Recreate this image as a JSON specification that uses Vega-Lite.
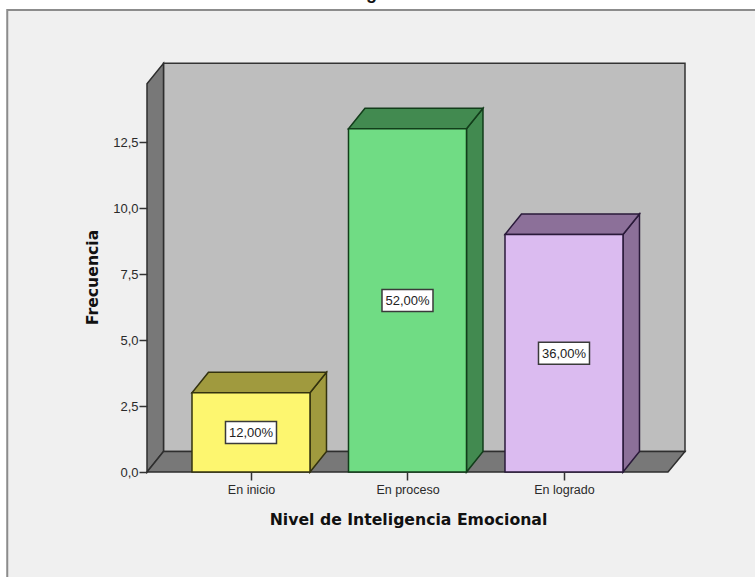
{
"$schema":"https://vega.github.io/schema/vega-lite/v6.json",
"width":755,"height":577,"padding":0,"autosize":{"type":"none"},"background":"#ffffff",
"config":{"view":{"stroke":null},"axis":{"grid":false}},
"datasets":{
"bars":[
{"nivel":"En inicio","pos":1,"lo":0.623,"hi":1.377,"frecuencia":3,"mid":1.5,"pct":"12,00%"},
{"nivel":"En proceso","pos":2,"lo":1.623,"hi":2.377,"frecuencia":13,"mid":6.5,"pct":"52,00%"},
{"nivel":"En logrado","pos":3,"lo":2.623,"hi":3.377,"frecuencia":9,"mid":4.5,"pct":"36,00%"}],
"side":[
{"nivel":"En inicio","x":1.377,"y0":0,"y1":3},
{"nivel":"En inicio","x":1.4824,"y0":0.7765,"y1":3.7765},
{"nivel":"En proceso","x":2.377,"y0":0,"y1":13},
{"nivel":"En proceso","x":2.4824,"y0":0.7765,"y1":13.7765},
{"nivel":"En logrado","x":3.377,"y0":0,"y1":9},
{"nivel":"En logrado","x":3.4824,"y0":0.7765,"y1":9.7765}],
"top":[
{"nivel":"En inicio","a":0.623,"b":1.377,"y":3},
{"nivel":"En inicio","a":0.7284,"b":1.4824,"y":3.7765},
{"nivel":"En proceso","a":1.623,"b":2.377,"y":13},
{"nivel":"En proceso","a":1.7284,"b":2.4824,"y":13.7765},
{"nivel":"En logrado","a":2.623,"b":3.377,"y":9},
{"nivel":"En logrado","a":2.7284,"b":3.4824,"y":9.7765}],
"leftwall":[{"x":0.3355,"y0":0,"y1":14.71},{"x":0.4409,"y0":0.7765,"y1":15.48}],
"floor":[{"a":0.3355,"b":3.6645,"y":0},{"a":0.4409,"b":3.7732,"y":0.7765}]
},
"data":{"name":"bars"},
"layer":[
{"data":{"values":[{"a":-0.5575,"b":4.4,"t":17.5,"u":-5}]},
 "mark":{"type":"rect","fill":"#f0f0f0","stroke":"#8c8c8c","strokeWidth":2,"clip":true},
 "encoding":{
  "x":{"field":"a","type":"quantitative","scale":{"domain":[-0.6038,4.2205],"nice":false,"zero":false},
   "axis":{"offset":-105,"orient":"bottom","values":[1,2,3],"labelExpr":"datum.value==1?'En inicio':datum.value==2?'En proceso':'En logrado'","domain":false,"tickSize":8,"tickWidth":1.5,"tickColor":"#333333","labelFont":"Liberation Sans","labelFontSize":12.5,"labelColor":"#2a2a2a","labelPadding":3,"title":"Nivel de Inteligencia Emocional","titleFont":"DejaVu Sans","titleFontSize":15.7,"titleFontWeight":"bold","titleColor":"#111111","titleX":408,"titleY":47,"titleBaseline":"middle","zindex":1}},
  "x2":{"field":"b"},
  "y":{"field":"t","type":"quantitative","scale":{"domain":[-3.977,17.879],"nice":false,"zero":false},
   "axis":{"offset":-147,"orient":"left","values":[0,2.5,5,7.5,10,12.5],"labelExpr":"replace(format(datum.value,'.1f'),'.',',')","domain":false,"tickSize":8,"tickWidth":1.5,"tickColor":"#333333","labelFont":"Liberation Sans","labelFontSize":13,"labelColor":"#2a2a2a","labelPadding":1,"title":"Frecuencia","titleFont":"DejaVu Sans","titleFontSize":15.7,"titleFontWeight":"bold","titleColor":"#111111","titleX":-55,"titleY":277,"titleBaseline":"middle","zindex":1}},
  "y2":{"field":"u"}}},
{"data":{"values":[{"a":0.4409,"b":3.7732,"t":15.48,"u":0.7765}]},
 "mark":{"type":"rect","fill":"#bebebe","stroke":"#333333","strokeWidth":1.5},
 "encoding":{"x":{"field":"a","type":"quantitative"},"x2":{"field":"b"},"y":{"field":"t","type":"quantitative"},"y2":{"field":"u"}}},
{"data":{"name":"leftwall"},
 "mark":{"type":"area","orient":"vertical","fill":"#787878","stroke":"#2e2e2e","strokeWidth":1.5},
 "encoding":{"x":{"field":"x","type":"quantitative"},"y":{"field":"y1","type":"quantitative","stack":null},"y2":{"field":"y0"}}},
{"data":{"name":"floor"},
 "mark":{"type":"area","orient":"horizontal","fill":"#787878","stroke":"#2e2e2e","strokeWidth":1.5},
 "encoding":{"y":{"field":"y","type":"quantitative"},"x":{"field":"a","type":"quantitative","stack":null},"x2":{"field":"b"}}},
{"data":{"name":"side"},
 "mark":{"type":"area","orient":"vertical","strokeWidth":1.5},
 "encoding":{"x":{"field":"x","type":"quantitative"},"y":{"field":"y1","type":"quantitative","stack":null},"y2":{"field":"y0"},
  "fill":{"field":"nivel","type":"nominal","legend":null,"scale":{"domain":["En inicio","En proceso","En logrado"],"range":["#a09a3e","#428a50","#8c7099"]}},
  "stroke":{"field":"nivel","type":"nominal","legend":null,"scale":{"domain":["En inicio","En proceso","En logrado"],"range":["#33320f","#123d1a","#2a1a3a"]}}}},
{"data":{"name":"top"},
 "mark":{"type":"area","orient":"horizontal","strokeWidth":1.5},
 "encoding":{"y":{"field":"y","type":"quantitative"},"x":{"field":"a","type":"quantitative","stack":null},"x2":{"field":"b"},
  "fill":{"field":"nivel","type":"nominal","legend":null,"scale":{"domain":["En inicio","En proceso","En logrado"],"range":["#a09a3e","#428a50","#8c7099"]}},
  "stroke":{"field":"nivel","type":"nominal","legend":null,"scale":{"domain":["En inicio","En proceso","En logrado"],"range":["#33320f","#123d1a","#2a1a3a"]}}}},
{"mark":{"type":"rect","strokeWidth":1.5},
 "encoding":{"x":{"field":"lo","type":"quantitative"},"x2":{"field":"hi"},"y":{"field":"frecuencia","type":"quantitative"},"y2":{"datum":0},
  "fill":{"field":"nivel","type":"nominal","legend":null,"scale":{"domain":["En inicio","En proceso","En logrado"],"range":["#fdf66f","#70dc84","#dbbbf0"]}},
  "stroke":{"field":"nivel","type":"nominal","legend":null,"scale":{"domain":["En inicio","En proceso","En logrado"],"range":["#33320f","#123d1a","#2a1a3a"]}}}},
{"mark":{"type":"rect","width":51,"height":22,"fill":"#ffffff","stroke":"#3a3a3a","strokeWidth":1.5},
 "encoding":{"x":{"field":"pos","type":"quantitative"},"y":{"field":"mid","type":"quantitative"}}},
{"mark":{"type":"text","font":"Liberation Sans","fontSize":13,"color":"#222222","dy":1},
 "encoding":{"x":{"field":"pos","type":"quantitative"},"y":{"field":"mid","type":"quantitative"},"text":{"field":"pct"}}},
{"data":{"values":[{"x":1.77,"y":17.93,"t":"g"}]},
 "mark":{"type":"text","font":"Liberation Sans","fontSize":18,"fontWeight":"bold","baseline":"alphabetic","color":"#111111"},
 "encoding":{"x":{"field":"x","type":"quantitative"},"y":{"field":"y","type":"quantitative"},"text":{"field":"t"}}}
],
"resolve":{"scale":{"fill":"independent","stroke":"independent"}}
}
